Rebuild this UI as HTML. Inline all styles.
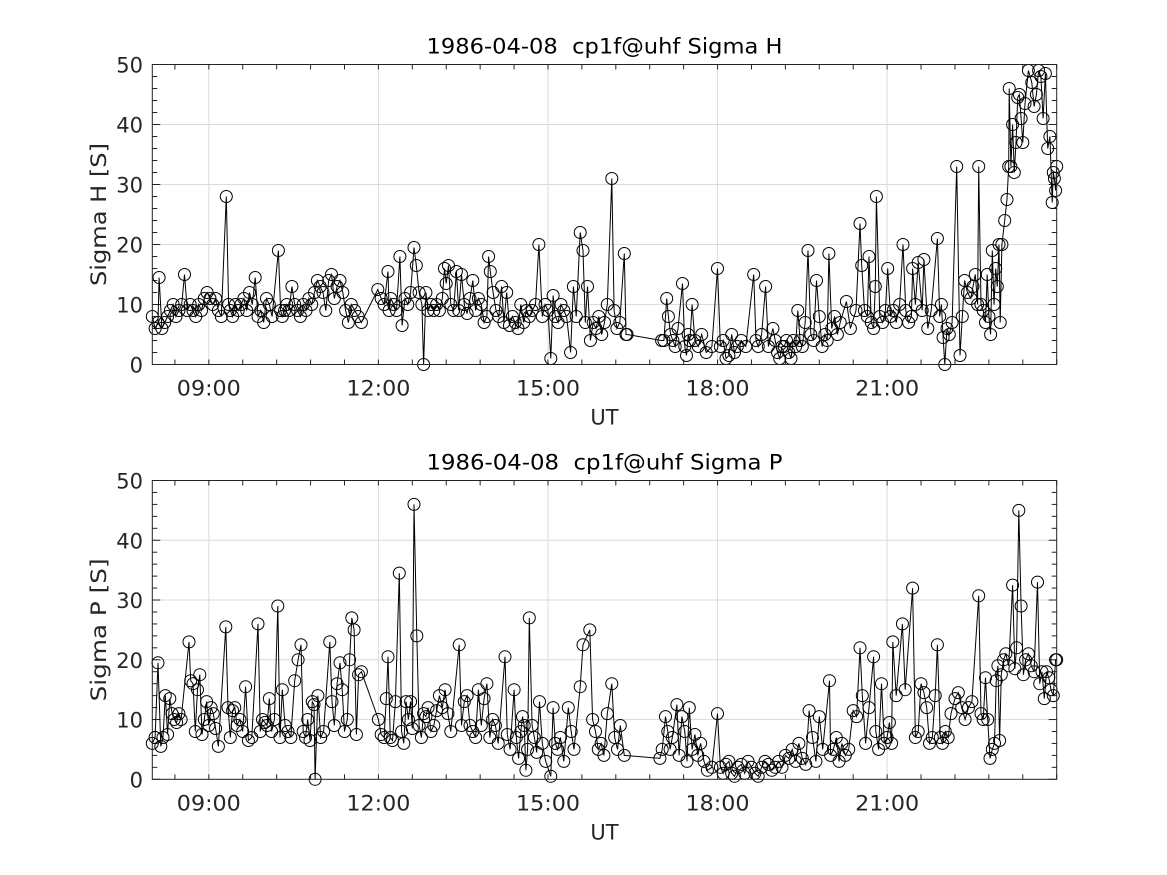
<!DOCTYPE html>
<html><head><meta charset="utf-8"><style>
html,body{margin:0;padding:0;background:#fff;}
svg{display:block;font-family:"DejaVu Sans","Liberation Sans",sans-serif;}
svg text{white-space:pre;}
</style></head><body>
<svg id="fig" width="1167" height="875" viewBox="0 0 1167 875"></svg>
<script>
const xTickLabels=["09:00","12:00","15:00","18:00","21:00"];
const xTickHours=[9,12,15,18,21];
const yTickLabels=["0","10","20","30","40","50"];
const hT=[8.00,8.05,8.10,8.12,8.17,8.22,8.27,8.32,8.37,8.42,8.47,8.52,8.57,8.62,8.67,8.72,8.77,8.82,8.87,8.92,8.97,9.02,
9.07,9.12,9.17,9.22,9.31,9.35,9.38,9.42,9.47,9.52,9.57,9.62,9.67,9.72,9.77,9.82,9.87,9.92,9.97,10.02,10.07,10.12,10.23,10.27,10.30,10.34,10.38,
10.42,10.47,10.52,10.57,10.62,10.67,10.72,10.77,10.82,10.87,10.92,10.97,11.02,11.07,11.12,11.17,11.22,11.27,11.32,11.37,11.42,11.47,11.52,11.58,11.64,11.70,
11.99,12.05,12.10,12.17,12.19,12.22,12.27,12.32,12.38,12.42,12.47,12.52,12.57,12.63,12.67,12.72,12.77,12.80,12.84,12.88,12.93,12.98,
13.03,13.08,13.13,13.17,13.20,13.24,13.28,13.33,13.38,13.42,13.47,13.52,13.57,13.62,13.67,13.72,13.77,13.82,13.87,13.92,13.95,13.98,14.03,14.08,14.13,14.18,14.22,14.27,14.32,14.37,14.42,14.47,14.52,14.57,14.62,14.67,14.72,14.78,14.84,14.90,14.95,15.00,15.05,15.09,15.13,15.18,15.23,15.28,15.33,15.40,15.45,15.50,15.57,15.62,15.66,15.70,15.75,15.80,15.85,15.90,15.95,16.00,16.05,16.13,16.17,16.22,16.27,16.35,16.38,16.40,
17.01,17.05,17.10,17.13,17.17,17.21,17.25,17.30,17.38,17.42,17.45,17.48,17.51,17.55,17.60,17.66,17.72,17.80,17.90,18.00,18.05,18.10,18.15,18.20,18.25,
18.30,18.35,18.42,18.50,18.64,18.68,18.72,18.78,18.85,18.90,18.98,19.02,19.06,19.10,19.14,
19.18,19.22,19.26,19.30,19.34,19.38,19.42,19.46,19.50,19.55,19.60,19.65,19.70,19.75,19.80,19.85,19.90,19.94,19.97,
20.02,20.07,20.12,20.17,20.28,20.35,20.45,20.52,20.55,20.60,20.65,20.68,20.72,20.76,20.79,20.81,20.87,20.92,20.97,21.01,
21.06,21.11,21.16,21.22,21.28,21.33,21.38,21.43,21.45,21.50,21.55,21.62,21.65,21.72,21.78,21.89,21.93,21.96,21.99,
22.02,22.06,22.10,22.15,22.23,22.29,22.33,22.37,22.42,22.48,22.52,22.56,22.60,22.62,22.66,22.70,
22.74,22.77,22.80,22.83,22.86,22.89,22.92,22.95,22.98,23.00,23.03,
23.08,23.12,23.15,23.16,23.19,23.22,23.25,23.28,23.31,23.34,23.37,23.40,23.44,23.50,23.56,23.60,23.64,23.68,23.72,23.76,23.80,23.84,23.88,23.92,23.94,23.96,23.98,24.00];
const hV=[8,6,7,14.5,6,7,8,9,10,8,9,10,15,9,10,9,8,10,9,11,12,11,
10,11,9,8,28,10,9,8,10,9,10,11,9,12,10,14.5,8,9,7,11,10,8,19,9,8,9,10,
9,13,10,9,8,10,9,11,10,12,14,13,12,9,14,15,11,13,14,12,9,7,10,9,8,7,
12.5,11,10,15.5,9,11,10,9,18,6.5,11,10,12,19.5,16.5,12,10,0,12,9,10,9,
10,9,11,16,13.5,16.5,10,9,15.5,9,15,10,8.5,11,14,9,11,10,7,8,18,15.5,12,9,8,13,7,12,6.5,8,7,6,10,7,9,8,9,10,20,8,10,9,1,11.5,8,7,10,9,8,2,13,8,22,19,7,13,4,7,6,8,5,7,10,31,9,6,7,18.5,5,5,
4,4,11,8,5,4,3,6,13.5,3,1.5,5,4,10,4,3,5,2,3,16,3,4,1,1.5,5,
2,3,4,3,15,4,3,5,13,3,6,4,2,1,3,
3,4,2,1,4,3,9,4,3,7,19,5,4,14,8,3,5,4,18.5,
6,8,5,7,10.5,6,9,23.5,16.5,9,8,18,7,6,13,28,8,7,9,16,
8,9,7,10,20,9,7,8,16,10,17,9,17.5,6,9,21,8,10,4.5,
0,6,5,7,33,1.5,8,14,12,11,13,15,10,33,10,9,
7,15,8,5,19,10,16,13,20,7,20,
24,27.5,33,46,33,40,32,37,44.5,45,41,37,43.5,49,47,43,45,49,48,41,48.5,36,38,27,32,31,29,33];
const pT=[8.00,8.05,8.10,8.15,8.19,8.23,8.27,8.31,8.35,8.39,8.43,8.47,8.51,8.65,8.68,8.72,8.76,8.80,8.84,8.88,8.92,8.96,9.00,9.04,
9.08,9.12,9.17,9.30,9.34,9.38,9.42,9.46,9.50,9.55,9.60,9.65,9.70,9.76,9.87,9.91,9.95,9.99,10.03,10.07,
10.11,10.16,10.22,10.26,10.30,10.35,10.40,10.45,10.52,10.58,10.63,10.67,10.71,10.75,10.79,10.83,10.86,10.88,10.93,
10.98,11.03,11.14,11.18,11.22,11.27,11.32,11.36,11.40,11.45,11.49,11.53,11.57,11.61,11.65,11.70,
12.00,12.05,12.10,12.14,12.17,12.21,12.25,12.30,12.37,12.41,12.45,12.49,12.53,12.57,12.60,12.63,12.68,12.72,12.76,12.80,12.84,12.88,12.93,
12.98,13.03,13.08,13.13,13.18,13.23,13.28,13.43,13.47,13.52,13.57,13.62,13.67,13.72,13.77,13.82,13.87,13.92,13.97,
14.02,14.07,14.12,14.24,14.28,14.33,14.40,14.44,14.48,14.52,14.55,14.58,14.61,14.64,14.67,14.72,14.76,14.80,14.85,14.90,14.96,
15.05,15.09,15.13,15.17,15.22,15.28,15.36,15.41,15.46,15.57,15.62,15.74,15.79,15.84,15.89,15.94,15.99,16.05,16.13,16.18,16.23,16.28,16.35,
16.98,17.02,17.08,17.12,17.16,17.20,17.28,17.32,17.37,17.42,17.46,17.50,17.55,17.60,17.65,17.70,17.76,17.82,17.90,18.00,
18.05,18.10,18.15,18.20,18.25,18.30,18.36,18.42,18.48,18.54,18.60,18.66,18.72,18.78,18.84,18.90,18.96,
19.02,19.08,19.14,19.20,19.26,19.32,19.38,19.44,19.50,19.56,19.62,19.68,19.74,19.80,19.86,19.98,20.00,
20.05,20.10,20.15,20.20,20.26,20.32,20.40,20.46,20.52,20.56,20.62,20.68,20.76,20.80,20.85,20.90,20.95,21.00,
21.04,21.08,21.10,21.16,21.27,21.32,21.45,21.50,21.55,21.60,21.65,21.70,21.75,21.80,21.85,21.89,21.94,21.98,
22.03,22.08,22.13,22.20,22.26,22.32,22.38,22.44,22.50,22.62,
22.66,22.70,22.74,22.78,22.82,22.86,22.90,22.93,22.96,22.99,23.02,
23.06,23.10,23.15,23.22,23.26,23.29,23.33,23.37,23.41,23.45,23.50,23.55,23.60,23.66,23.70,23.74,23.78,23.82,23.86,23.90,23.94,23.98,24.00];
const pV=[6,7,19.5,5.5,7,14,7.5,13.5,11,10,9.5,11,10,23,16.5,16,8,15,17.5,7.5,10,13,9,12,
11,8.5,5.5,25.5,12,7,11.5,12,9,10,8,15.5,6.5,7,26,8,10,9.5,9,13.5,
8,10,29,7,15,9,8,7,16.5,20,22.5,8,7,10,6.5,13,12.5,0,14,
7,8,23,13,9,16,19.5,15,8,10,20,27,25,7.5,17.5,18,
10,7.5,7,13.5,20.5,7,6.5,13,34.5,8,6,13,10,13,8.5,46,24,9,7,11,10.5,12,8,
9,11.5,14,12,15,11,8,22.5,9,13,14,9,8,7,15,9,13.5,16,7,
10,9,6,20.5,7.5,5,15,7,3.5,8,10.5,9,1.5,5,27,9,7,4.5,13,6,3,
0.5,12,6,5,7,3,12,8,5,15.5,22.5,25,10,8,5,6,4,11,16,7,5,9,4,
3.5,5,10.5,8,5,7,12.5,4,10.5,8,3,12,5,7.5,4,6,3,1.5,2,11,
2,1,2.5,3,1,0.5,2,2.5,1,3,2,1,0.5,2,3,2.5,1.5,
2,3,2,4,3.5,5,3,6,3.5,2.5,11.5,7,3,10.5,5,16.5,4,
5,7,3,6,4,5,11.5,10.5,22,14,6,12,20.5,8,5,16,6,7,
9.5,6,23,14,26,15,32,7,8,16,14.5,12,6,7,14,22.5,7,6,
8,7,11,13.5,14.5,12,10,12,13,30.7,
11,10,17,10,3.5,5,6,16.5,19,6.5,17.5,
20,21,19,32.5,18.5,22,45,29,17.5,20,21,19,18,33,16,18,13.5,18,17,15,14,20,20];

const NS="http://www.w3.org/2000/svg";
const svg=document.getElementById('fig');
function mk(tag,attrs,parent){const e=document.createElementNS(NS,tag);for(const k in attrs)e.setAttribute(k,attrs[k]);(parent||svg).appendChild(e);return e;}
const L=152.3,R=1056.7;
function xs(h){return L+(h-8)*(R-L)/16;}

function drawPanel(top,bottom,title,ylabel,T,V,key){
  const g=mk('g',{});
  
  
  const ys=v=>bottom-(v/50)*(bottom-top);
  xTickHours.forEach(h=>{const l=mk('line',{x1:xs(h),x2:xs(h),y1:top,y2:bottom,stroke:'#dcdcdc','stroke-width':1},g);
    });
  for(let v=10;v<50;v+=10){const l=mk('line',{x1:L,x2:R,y1:ys(v),y2:ys(v),stroke:'#dcdcdc','stroke-width':1},g);
    }
  for(let h=9-0.6;h>=8;h-=0.6){mk('line',{x1:xs(h),x2:xs(h),y1:bottom,y2:bottom-5,stroke:'#222'},g);mk('line',{x1:xs(h),x2:xs(h),y1:top,y2:top+5,stroke:'#222'},g);}
  for(let h=9;h<=24.01;h+=0.6){mk('line',{x1:xs(h),x2:xs(h),y1:bottom,y2:bottom-5,stroke:'#222'},g);mk('line',{x1:xs(h),x2:xs(h),y1:top,y2:top+5,stroke:'#222'},g);}
  for(let v=0;v<=50;v+=2){const len=(v%10===0)?8:5;mk('line',{x1:L,x2:L+len,y1:ys(v),y2:ys(v),stroke:'#222'},g);mk('line',{x1:R,x2:R-len,y1:ys(v),y2:ys(v),stroke:'#222'},g);}
  let d='';T.forEach((t,i)=>{d+=(i?'L':'M')+xs(t).toFixed(1)+' '+ys(V[i]).toFixed(1);});
  const p=mk('path',{d:d,fill:'none',stroke:'#000','stroke-width':1},g);
  
  
  T.forEach((t,i)=>{const c=mk('circle',{cx:xs(t).toFixed(1),cy:ys(V[i]).toFixed(1),r:6,fill:'none',stroke:'#000','stroke-width':1},g);
    
    });
  const f=mk('rect',{x:L,y:top,width:R-L,height:bottom-top,fill:'none',stroke:'#222','stroke-width':1},g);
  
  xTickLabels.forEach((s,i)=>{const t=mk('text',{x:xs(xTickHours[i]),y:bottom+31,'text-anchor':'middle','font-size':21,fill:'#262626',textLength:64,lengthAdjust:'spacingAndGlyphs'},g);t.textContent=s;
    });
  yTickLabels.forEach((s,i)=>{const t=mk('text',{x:143,y:ys(i*10)+8,'text-anchor':'end','font-size':21,fill:'#262626'},g);t.textContent=s;
    });
  const tt=mk('text',{x:(L+R)/2,y:top-11,'text-anchor':'middle','font-size':21,fill:'#000',textLength:356,lengthAdjust:'spacingAndGlyphs'},g);tt.textContent=title;
  
  const xl=mk('text',{x:(L+R)/2,y:bottom+60,'text-anchor':'middle','font-size':21,fill:'#262626'},g);xl.textContent='UT';
  
  const cy=(top+bottom)/2;
  const yl=mk('text',{x:106,y:cy,'text-anchor':'middle','font-size':21,fill:'#262626',textLength:143,lengthAdjust:'spacingAndGlyphs',transform:`rotate(-90 106 ${cy})`},g);yl.textContent=ylabel;
  
}
drawPanel(64.5,364.5,'1986-04-08  cp1f@uhf Sigma H','Sigma H [S]',hT,hV,'sigma-h');
drawPanel(480.5,779.3,'1986-04-08  cp1f@uhf Sigma P','Sigma P [S]',pT,pV,'sigma-p');
</script>
</body></html>
